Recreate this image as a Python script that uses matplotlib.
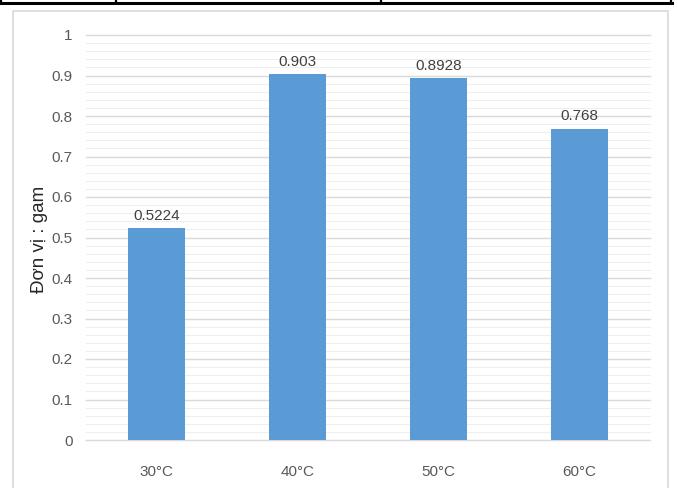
import matplotlib
matplotlib.use("Agg")
import matplotlib.pyplot as plt
from matplotlib.lines import Line2D
from matplotlib.patches import Rectangle
import numpy as np

categories = ["30°C", "40°C", "50°C", "60°C"]
values = [0.5224, 0.903, 0.8928, 0.768]
value_labels = ["0.5224", "0.903", "0.8928", "0.768"]
y_ticks = [0, 0.1, 0.2, 0.3, 0.4, 0.5, 0.6, 0.7, 0.8, 0.9, 1.0]
y_tick_labels = ["0", "0.1", "0.2", "0.3", "0.4", "0.5", "0.6", "0.7", "0.8", "0.9", "1"]
y_label = "Đơn vị : gam"

plt.rcParams['font.family'] = ['Liberation Sans', 'DejaVu Sans']
tick_size = 11

W, H = 678, 488
fig = plt.figure(figsize=(W / 100, H / 100), dpi=100)

# outer chart box
fig.patches.append(Rectangle((13 / W, -0.1), (668 - 13) / W, 1.1 - 11 / H,
                             transform=fig.transFigure, fill=False,
                             edgecolor="#D9D9D9", linewidth=1.2))
# top black table lines
fig.lines.append(Line2D([0, 672 / W], [1 - 2.5 / H, 1 - 2.5 / H], transform=fig.transFigure,
                        color="black", linewidth=2.2))
for xp in [1, 116, 381, 671]:
    fig.lines.append(Line2D([xp / W, xp / W], [1, 1 - 3 / H], transform=fig.transFigure,
                            color="black", linewidth=1.6))

ax = fig.add_axes([86 / W, 1 - 440 / H, (650 - 86) / W, (440 - 35) / H])
x = np.arange(len(categories))
ax.bar(x, values, width=0.4, color="#5B9BD5", zorder=3)
ax.set_xlim(-0.5, len(categories) - 0.5)
ax.set_ylim(0, 1.0)

# gridlines
for v in np.arange(0, 1.0001, 0.02):
    major = abs(round(v * 10) - v * 10) < 1e-6
    ax.axhline(v, color="#D9D9D9" if major else "#EEEEEE",
               linewidth=1.0 if major else 0.8, zorder=1, clip_on=False)

for xi, v, lab in zip(x, values, value_labels):
    ax.text(xi, v + 0.014, lab, ha="center", va="bottom", fontsize=tick_size,
            color="#404040")

ax.set_yticks(y_ticks)
ax.set_yticklabels(y_tick_labels)
ax.set_xticks(x)
ax.set_xticklabels(categories)
ax.tick_params(axis="both", length=0, labelsize=tick_size, labelcolor="#595959")
ax.tick_params(axis="y", pad=9.5)
ax.tick_params(axis="x", pad=18)
for s in ax.spines.values():
    s.set_visible(False)

fig.text(40 / W, 1 - 239 / H, y_label, rotation=90, ha="center", va="center",
         fontsize=13.5, color="#262626")

fig.savefig("out.png", dpi=100)
